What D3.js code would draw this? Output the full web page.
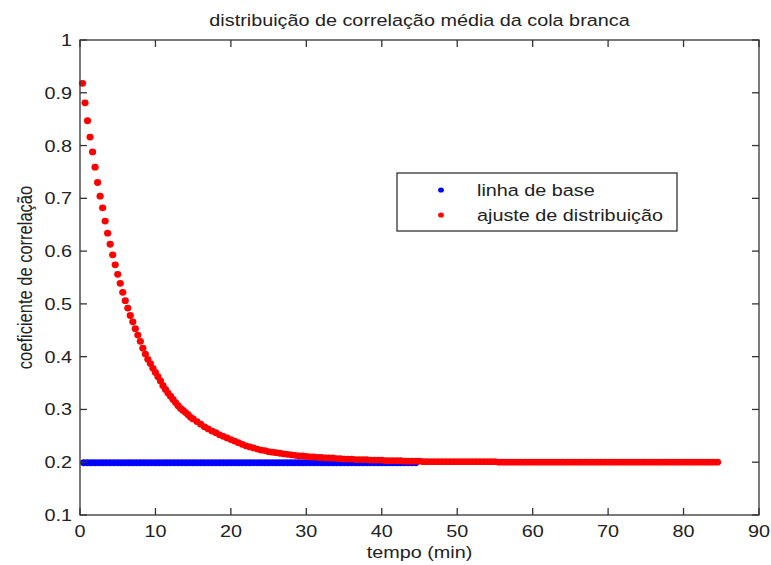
<!DOCTYPE html>
<html lang="pt">
<head>
    <meta charset="UTF-8">
    <title>distribuição de correlação média da cola branca</title>
    <script src="https://d3js.org/d3.v7.min.js"></script>
    <style>
        body { margin: 0; background: #fff; }
        text { font-family: "Liberation Sans", Arial, sans-serif; fill: #222; }
    </style>
</head>
<body>
    <script>
        // chart texts
        const titleText = 'distribuição de correlação média da cola branca';
        const xLabelText = 'tempo (min)';
        const yLabelText = 'coeficiente de correlação';
        const seriesNames = ['linha de base', 'ajuste de distribuição'];

        // axis ticks
        const xTicks = [0, 10, 20, 30, 40, 50, 60, 70, 80, 90];
        const yTicks = [0.1, 0.2, 0.3, 0.4, 0.5, 0.6, 0.7, 0.8, 0.9, 1];

        // linha de base: one sample every 30 s, first at 0.5 min
        const baseStart = 0.5, baseStep = 0.5;
        const baseValues = [
            0.199, 0.199, 0.199, 0.199, 0.199, 0.199, 0.199, 0.199, 0.199, 0.199,
            0.199, 0.199, 0.199, 0.199, 0.199, 0.199, 0.199, 0.199, 0.199, 0.199,
            0.199, 0.199, 0.199, 0.199, 0.199, 0.199, 0.199, 0.199, 0.199, 0.199,
            0.199, 0.199, 0.199, 0.199, 0.199, 0.199, 0.199, 0.199, 0.199, 0.199,
            0.199, 0.199, 0.199, 0.199, 0.199, 0.199, 0.199, 0.199, 0.199, 0.199,
            0.199, 0.199, 0.199, 0.199, 0.199, 0.199, 0.199, 0.199, 0.199, 0.199,
            0.199, 0.199, 0.199, 0.199, 0.199, 0.199, 0.199, 0.199, 0.199, 0.199,
            0.199, 0.199, 0.199, 0.199, 0.199, 0.199, 0.199, 0.199, 0.199, 0.199,
            0.199, 0.199, 0.199, 0.199, 0.199, 0.199, 0.199, 0.199, 0.199
        ];

        // ajuste: every 20 s from 1/3 min up to 15 min
        const fitEarlyStart = 1 / 3, fitEarlyStep = 1 / 3;
        const fitEarly = [
            0.918, 0.881, 0.847, 0.816, 0.788, 0.759, 0.730, 0.704, 0.682, 0.657,
            0.634, 0.613, 0.593, 0.574, 0.556, 0.539, 0.522, 0.506, 0.492, 0.478,
            0.466, 0.453, 0.441, 0.429, 0.416, 0.405, 0.395, 0.387, 0.378, 0.370,
            0.362, 0.354, 0.345, 0.338, 0.331, 0.325, 0.319, 0.313, 0.307, 0.302,
            0.298, 0.294, 0.290, 0.285, 0.282
        ];

        // ajuste: every 30 s from 15.5 min on
        const fitLateStart = 15.5, fitLateStep = 0.5;
        const fitLate = [
            0.277, 0.272, 0.267, 0.263, 0.259, 0.256, 0.252, 0.249, 0.246, 0.243,
            0.240, 0.237, 0.234, 0.231, 0.229, 0.227, 0.225, 0.223, 0.222, 0.220,
            0.219, 0.218, 0.217, 0.216, 0.215, 0.214, 0.213, 0.212, 0.212, 0.211,
            0.210, 0.210, 0.209, 0.209, 0.208, 0.208, 0.208, 0.207, 0.207, 0.206,
            0.206, 0.206, 0.205, 0.205, 0.205, 0.205, 0.204, 0.204, 0.204, 0.204,
            0.203, 0.203, 0.203, 0.203, 0.203, 0.202, 0.202, 0.202, 0.202, 0.202,
            0.201, 0.201, 0.201, 0.201, 0.201, 0.201, 0.201, 0.201, 0.201, 0.201,
            0.201, 0.201, 0.201, 0.201, 0.201, 0.201, 0.201, 0.201, 0.201, 0.201,
            0.200, 0.200, 0.200, 0.200, 0.200, 0.200, 0.200, 0.200, 0.200, 0.200,
            0.200, 0.200, 0.200, 0.200, 0.200, 0.200, 0.200, 0.200, 0.200, 0.200,
            0.200, 0.200, 0.200, 0.200, 0.200, 0.200, 0.200, 0.200, 0.200, 0.200,
            0.200, 0.200, 0.200, 0.200, 0.200, 0.200, 0.200, 0.200, 0.200, 0.200,
            0.200, 0.200, 0.200, 0.200, 0.200, 0.200, 0.200, 0.200, 0.200, 0.200,
            0.200, 0.200, 0.200, 0.200, 0.200, 0.200, 0.200, 0.200, 0.200
        ];

        const colors = ['#0000ff', '#ff0000'];

        function drawChart() {
            const width = 771;
            const height = 565;
            const margin = { top: 40, right: 12, bottom: 50, left: 80 };
            const fontSize = 16.5;
            const stretch = 1.2; // the picture is wider than it is tall
            const axisColor = '#333';

            const svg = d3.select('body')
                .append('svg')
                .attr('width', width)
                .attr('height', height);

            const x = d3.scaleLinear()
                .domain([0, 90])
                .range([margin.left, width - margin.right]);

            const y = d3.scaleLinear()
                .domain([0.1, 1])
                .range([height - margin.bottom, margin.top]);

            const x0 = x.range()[0], x1 = x.range()[1];
            const y0 = y.range()[0], y1 = y.range()[1];

            // build points from the arrays
            const toPoints = (vals, start, step) => vals.map((v, i) => ({ t: start + i * step, v }));
            const basePts = toPoints(baseValues, baseStart, baseStep);
            const fitPts = toPoints(fitEarly, fitEarlyStart, fitEarlyStep)
                .concat(toPoints(fitLate, fitLateStart, fitLateStep));

            // stretched text helper
            function label(g, tx, ty, txt, anchor, rotate) {
                return g.append('text')
                    .attr('transform', `translate(${tx},${ty}) scale(${stretch},1)` + (rotate ? ' rotate(-90)' : ''))
                    .attr('text-anchor', anchor)
                    .style('font-size', fontSize + 'px')
                    .text(txt);
            }

            // markers
            svg.append('g')
                .selectAll('ellipse')
                .data(basePts)
                .join('ellipse')
                .attr('cx', d => x(d.t))
                .attr('cy', d => y(d.v))
                .attr('rx', 3.6)
                .attr('ry', 3.4)
                .attr('fill', colors[0]);

            svg.append('g')
                .selectAll('ellipse')
                .data(fitPts)
                .join('ellipse')
                .attr('cx', d => x(d.t))
                .attr('cy', d => y(d.v))
                .attr('rx', 3.6)
                .attr('ry', 3.4)
                .attr('fill', colors[1]);

            // axes: ticks inside on all four sides
            const tickLen = 7;
            const axes = svg.append('g').attr('stroke', axisColor).attr('stroke-width', 1.3);

            axes.append('rect')
                .attr('x', x0).attr('y', y1)
                .attr('width', x1 - x0).attr('height', y0 - y1)
                .attr('fill', 'none');

            axes.selectAll('.xtb').data(xTicks).join('line')
                .attr('x1', d => x(d)).attr('x2', d => x(d))
                .attr('y1', y0).attr('y2', y0 - tickLen);
            axes.selectAll('.xtt').data(xTicks).join('line')
                .attr('x1', d => x(d)).attr('x2', d => x(d))
                .attr('y1', y1).attr('y2', y1 + tickLen);
            axes.selectAll('.ytl').data(yTicks).join('line')
                .attr('y1', d => y(d)).attr('y2', d => y(d))
                .attr('x1', x0).attr('x2', x0 + tickLen);
            axes.selectAll('.ytr').data(yTicks).join('line')
                .attr('y1', d => y(d)).attr('y2', d => y(d))
                .attr('x1', x1).attr('x2', x1 - tickLen);

            const labels = svg.append('g');
            xTicks.forEach(d => label(labels, x(d), y0 + 22, d3.format('d')(d), 'middle'));
            yTicks.forEach(d => label(labels, x0 - 8, y(d) + 6, d === 1 ? '1' : d3.format('.1f')(d), 'end'));

            // title and axis names
            label(labels, (x0 + x1) / 2, 26, titleText, 'middle');
            label(labels, (x0 + x1) / 2, 558, xLabelText, 'middle');
            label(labels, 32, (y0 + y1) / 2, yLabelText, 'middle', true);

            // legend
            const lg = svg.append('g').attr('transform', 'translate(397,173)');
            lg.append('rect')
                .attr('width', 280).attr('height', 58)
                .attr('fill', '#fff')
                .attr('stroke', axisColor).attr('stroke-width', 1.3);
            seriesNames.forEach((name, i) => {
                const ry = 17 + i * 25;
                lg.append('ellipse')
                    .attr('cx', 44).attr('cy', ry)
                    .attr('rx', 2.9).attr('ry', 2.6)
                    .attr('fill', colors[i]);
                label(lg, 80, ry + 6, name, 'start');
            });
        }

        drawChart();
    </script>
</body>
</html>
